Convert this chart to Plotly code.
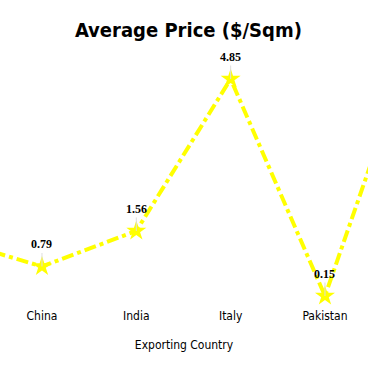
import plotly.graph_objects as go

countries = ["Brazil", "China", "India", "Italy", "Pakistan", "Spain"]
avg_price = [1.40, 0.79, 1.56, 4.85, 0.15, 6.04]

fig = go.Figure()
fig.add_trace(go.Scatter(
    x=countries, y=avg_price, mode="lines+markers",
    line=dict(color="#FFFF00", width=4, dash="dashdot"),
    marker=dict(symbol="star", size=15, color="#FFFF00"),
    showlegend=False,
))

for c, v in zip(countries, avg_price):
    fig.add_annotation(
        x=c, y=v, text=f"<b>{v:.2f}</b>", showarrow=True,
        arrowhead=0, arrowwidth=1, arrowcolor="#dddddd",
        ax=0, ay=-22,
        font=dict(family="Liberation Serif", size=12, color="black"),
    )

fig.update_layout(
    width=368, height=371,
    margin=dict(l=0, r=0, t=58, b=64),
    paper_bgcolor="white", plot_bgcolor="white",
    title=dict(text="<b>Average Price ($/Sqm)</b>", x=0.512, xanchor="center",
               y=0.919, yanchor="middle",
               font=dict(family="DejaVu Sans Condensed, DejaVu Sans", size=20, color="black")),
    xaxis=dict(type="category", categoryorder="array", categoryarray=countries,
               range=[0.555, 4.456], showgrid=False, zeroline=False, showline=False,
               ticks="", tickfont=dict(family="DejaVu Sans Condensed, DejaVu Sans", size=12, color="black"),
               title=dict(text="Exporting Country", standoff=18,
                          font=dict(family="DejaVu Sans Condensed, DejaVu Sans", size=12, color="black"))),
    yaxis=dict(range=[-0.088, 5.305], showgrid=False, zeroline=False, showline=False,
               showticklabels=False, ticks=""),
)

fig.write_html("out.html", config={"displayModeBar": False},
               post_script="document.body.style.margin='0';document.body.style.overflow='hidden';")
